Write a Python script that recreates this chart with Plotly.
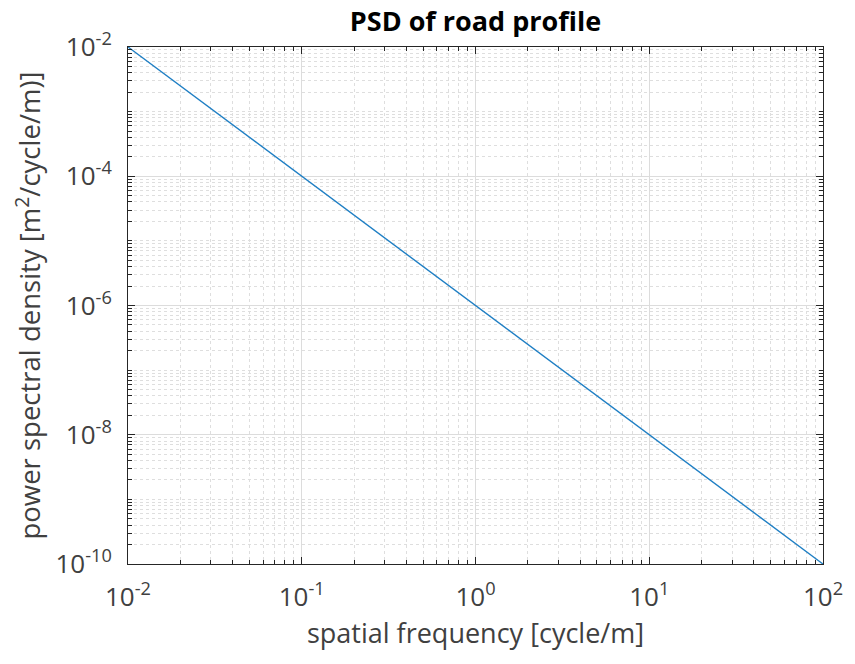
import plotly.graph_objects as go

# Road profile PSD (power law, one point per decade)
spatial_freq = [0.01, 0.1, 1.0, 10.0, 100.0]
psd_values = [1e-2, 1e-4, 1e-6, 1e-8, 1e-10]

x_tick_vals = [1e-2, 1e-1, 1e0, 1e1, 1e2]
x_tick_text = ["10<sup>-2</sup>", "10<sup>-1</sup>", "10<sup>0</sup>", "10<sup>1</sup>", "10<sup>2</sup>"]
y_tick_vals = [1e-10, 1e-8, 1e-6, 1e-4, 1e-2]
y_tick_text = ["10<sup>-10</sup>", "10<sup>-8</sup>", "10<sup>-6</sup>", "10<sup>-4</sup>", "10<sup>-2</sup>"]

x_decades = [-2, -1, 0, 1]
y_decades = [-10, -9, -8, -7, -6, -5, -4, -3]

x_minor = [k * 10.0 ** d for d in x_decades for k in range(2, 10)]
y_minor = [k * 10.0 ** d for d in y_decades for k in range(1, 10)
           if not (k == 1 and d % 2 == 0)]

FONT = "Open Sans"
TXT = "#262626"
TICK = "#404040"

fig = go.Figure()
fig.add_trace(go.Scatter(
    x=spatial_freq, y=psd_values, mode="lines",
    line=dict(color="#1f7fc4", width=1.4),
    showlegend=False,
))

axis_common = dict(
    type="log",
    showline=True, linecolor=TXT, linewidth=1,
    mirror="allticks",
    ticks="inside", ticklen=7, tickcolor=TXT, tickwidth=1,
    showgrid=True, gridcolor="#dcdcdc", gridwidth=1,
    zeroline=False,
    tickfont=dict(family=FONT, size=26, color=TICK),
)

fig.update_xaxes(
    **axis_common,
    range=[-2, 2],
    tickmode="array", tickvals=x_tick_vals, ticktext=x_tick_text,
    ticklabelstandoff=10,
    minor=dict(tickvals=x_minor, ticks="inside", ticklen=4, tickcolor=TXT,
               showgrid=True, gridcolor="#dedede", griddash="3px,3px", gridwidth=1),
    title=dict(text="spatial frequency [cycle/m]",
               font=dict(family=FONT, size=27, color=TICK), standoff=6),
)
fig.update_yaxes(
    **axis_common,
    range=[-10, -2],
    tickmode="array", tickvals=y_tick_vals, ticktext=y_tick_text,
    ticklabelstandoff=10,
    minor=dict(tickvals=y_minor, ticks="inside", ticklen=4, tickcolor=TXT,
               showgrid=True, gridcolor="#dedede", griddash="3px,3px", gridwidth=1),
    title=dict(text="power spectral density [m<sup>2</sup>/cycle/m)]",
               font=dict(family=FONT, size=27.5, color=TICK), standoff=6),
)

fig.update_layout(
    width=855, height=664,
    margin=dict(l=128, r=25, t=47, b=100),
    paper_bgcolor="white", plot_bgcolor="white",
    title=dict(text="<b>PSD of road profile</b>", xref="paper", x=0.5, xanchor="center",
               y=1 - 22 / 664, yanchor="middle",
               font=dict(family=FONT, size=27, color="#000000")),
)

fig.write_html("out.html")
